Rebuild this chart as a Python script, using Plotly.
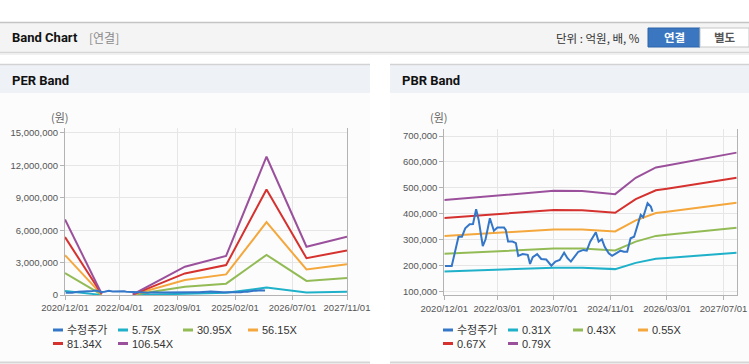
import plotly.graph_objects as go

W, H = 749, 364

# ---------------- data ----------------
price_dates = ["2020-12-07", "2021-02-03", "2021-04-02", "2021-05-02", "2021-05-30", "2021-07-07",
               "2021-08-05", "2021-09-01", "2021-09-23", "2021-10-28", "2021-11-21", "2021-12-28",
               "2022-02-01", "2022-03-03", "2022-04-29", "2022-05-14", "2022-06-03", "2022-07-11",
               "2022-08-09", "2022-08-29", "2022-10-06", "2022-11-19", "2022-12-09", "2023-01-01",
               "2023-02-08", "2023-03-15", "2023-04-27", "2023-06-10", "2023-07-15", "2023-08-21",
               "2023-09-28", "2023-10-27", "2023-11-25", "2023-12-25", "2024-01-28", "2024-03-12",
               "2024-04-10", "2024-05-09", "2024-05-29", "2024-06-27", "2024-07-21", "2024-08-18",
               "2024-09-11", "2024-10-16", "2024-11-14", "2024-12-27", "2025-01-25", "2025-02-24",
               "2025-03-24", "2025-04-22", "2025-05-22", "2025-07-18", "2025-08-08", "2025-09-15",
               "2025-10-13", "2025-10-28"]
price_values = [199000, 199000, 312000, 312000, 344000, 360000,
                361000, 418000, 376000, 276000, 302000, 383000,
                335000, 347000, 347000, 338000, 293000, 293000,
                287000, 238000, 245000, 242000, 207000, 233000,
                245000, 226000, 224000, 200000, 216000, 222000,
                250000, 229000, 216000, 233000, 254000, 261000,
                258000, 293000, 306000, 329000, 293000, 302000,
                273000, 248000, 238000, 248000, 258000, 254000,
                254000, 306000, 312000, 396000, 387000, 441000,
                428000, 408000]

per_dates = ["2020-12-01", "2021-10-25", "2022-03-01", "2022-08-01", "2023-11-10",
             "2024-11-13", "2025-11-10", "2026-11-03", "2027-11-01"]
per_575 = [380000, 10000, None, 0, 140000, 200000, 690000, 240000, 290000]
per_3095 = [2030000, 30000, None, 20000, 760000, 1050000, 3710000, 1300000, 1570000]
per_5615 = [3690000, 60000, None, 30000, 1380000, 1910000, 6740000, 2360000, 2850000]
per_8134 = [5360000, 90000, None, 40000, 2000000, 2770000, 9770000, 3410000, 4120000]
per_10654 = [7000000, 120000, None, 50000, 2620000, 3620000, 12800000, 4470000, 5400000]

pbr_dates = ["2020-12-01", "2022-03-01", "2023-07-01", "2024-03-01", "2024-08-01",
             "2024-12-10", "2025-06-05", "2025-11-26", "2026-03-01", "2027-10-22"]
pbr_031 = [178000, 184000, 192000, 192000, 189000, 187000, 211000, 227000, 230000, 250000]
pbr_043 = [246000, 256000, 266000, 266000, 263000, 259000, 293000, 315000, 319000, 346000]
pbr_055 = [315000, 327000, 340000, 340000, 336000, 332000, 375000, 403000, 408000, 443000]
pbr_067 = [384000, 399000, 415000, 414000, 409000, 404000, 457000, 491000, 497000, 539000]
pbr_079 = [453000, 470000, 489000, 488000, 483000, 476000, 539000, 579000, 586000, 636000]

per_tick_vals = ["2020-12-01", "2022-04-01", "2023-09-01", "2025-02-01", "2026-07-01", "2027-11-01"]
per_tick_text = ["2020/12/01", "2022/04/01", "2023/09/01", "2025/02/01", "2026/07/01", "2027/11/01"]
pbr_tick_vals = ["2020-12-01", "2022-03-01", "2023-07-01", "2024-11-01", "2026-03-01", "2027-07-01"]
pbr_tick_text = ["2020/12/01", "2022/03/01", "2023/07/01", "2024/11/01", "2026/03/01", "2027/07/01"]
per_y_ticks = [0, 3000000, 6000000, 9000000, 12000000, 15000000]
pbr_y_ticks = [100000, 200000, 300000, 400000, 500000, 600000, 700000]

per_names = ["수정주가", "5.75X", "30.95X", "56.15X", "81.34X", "106.54X"]
pbr_names = ["수정주가", "0.31X", "0.43X", "0.55X", "0.67X", "0.79X"]
colors = ["#3476c8", "#1fb1c9", "#93bb55", "#f4a73c", "#d5312e", "#9b509c"]

# ---------------- helpers ----------------
def fx(px):
    return px / W

def fy(py):
    return 1 - py / H

fig = go.Figure()

per_series = [per_575, per_3095, per_5615, per_8134, per_10654]
for i, vals in enumerate(per_series):
    fig.add_trace(go.Scatter(x=per_dates, y=vals, mode="lines", name=per_names[i + 1],
                             line=dict(color=colors[i + 1], width=2), connectgaps=False,
                             showlegend=False, xaxis="x", yaxis="y"))
fig.add_trace(go.Scatter(x=price_dates, y=price_values, mode="lines", name=per_names[0],
                         line=dict(color=colors[0], width=2), showlegend=False,
                         xaxis="x", yaxis="y"))

pbr_series = [pbr_031, pbr_043, pbr_055, pbr_067, pbr_079]
for i, vals in enumerate(pbr_series):
    fig.add_trace(go.Scatter(x=pbr_dates, y=vals, mode="lines", name=pbr_names[i + 1],
                             line=dict(color=colors[i + 1], width=2),
                             showlegend=False, xaxis="x2", yaxis="y2"))
fig.add_trace(go.Scatter(x=price_dates, y=price_values, mode="lines", name=pbr_names[0],
                         line=dict(color=colors[0], width=2), showlegend=False,
                         xaxis="x2", yaxis="y2"))

tick_font = dict(family="Liberation Sans, Noto Sans CJK KR", size=9.5, color="#555555")
axis_common = dict(showgrid=True, gridcolor="#e6e6e6", gridwidth=1, showline=True,
                   linecolor="#b3b3b3", linewidth=1, ticks="outside", ticklen=4,
                   tickcolor="#b3b3b3", tickfont=tick_font, zeroline=False, fixedrange=True,
                   automargin=False)

fig.update_layout(
    template="none",
    width=W, height=H,
    autosize=False,
    margin=dict(l=0, r=0, t=0, b=0, pad=0),
    paper_bgcolor="#ffffff",
    plot_bgcolor="rgba(0,0,0,0)",
    showlegend=False,
    xaxis=dict(type="date", domain=[fx(65), fx(347)], range=["2020-12-01", "2027-11-01"],
               tickvals=per_tick_vals, ticktext=per_tick_text, anchor="y", **axis_common),
    yaxis=dict(domain=[fy(295), fy(128)], range=[0, 15460000], tickvals=per_y_ticks,
               tickformat=",", mirror=True, anchor="x", **axis_common),
    xaxis2=dict(type="date", domain=[fx(444.3), fx(736.7)], range=["2020-12-01", "2027-10-22"],
                tickvals=pbr_tick_vals, ticktext=pbr_tick_text, anchor="y2", **axis_common),
    yaxis2=dict(domain=[fy(295.3), fy(129)], range=[86100, 727000], tickvals=pbr_y_ticks,
                tickformat=",", mirror=True, anchor="x2", **axis_common),
)

shapes = []

def rect(x0, y0, x1, y1, fill, line_color=None, lw=0, layer="below"):
    shapes.append(dict(type="rect", xref="paper", yref="paper", x0=fx(x0), x1=fx(x1),
                       y0=fy(y1), y1=fy(y0), fillcolor=fill, layer=layer,
                       line=dict(color=line_color or fill, width=lw)))

def hline(x0, x1, y, color, lw=1, layer="below"):
    shapes.append(dict(type="line", xref="paper", yref="paper", x0=fx(x0), x1=fx(x1),
                       y0=fy(y), y1=fy(y), layer=layer, line=dict(color=color, width=lw)))

# header bar
rect(0, 22, 749, 52, "#f4f4f4")
hline(0, 749, 22.5, "#c4c4c4", 1.5)
hline(0, 749, 52.5, "#d6d6d6", 1.5)
hline(0, 749, 54, "#ececec", 1.5)
# buttons
rect(648, 28, 700, 47, "#3a77c0", "#2d65aa", 1, layer="above")
rect(700, 28, 749, 47, "#ffffff", "#c6c6c6", 1, layer="above")

# panels
for (px0, px1) in [(0, 370), (390, 749)]:
    rect(px0, 64, px1, 93, "#eef2f7")
    rect(px0, 93, px1, 362, "#fcfcfc")
    hline(px0, px1, 64.5, "#d2d2d2", 1.5)
    hline(px0, px1, 362.5, "#d6d6d6", 2)

annotations = []

def text(x, y, s, size=12, color="#333333", family="Noto Sans CJK KR", bold=False,
         anchor="left"):
    if bold:
        s = "<b>" + s + "</b>"
    annotations.append(dict(xref="paper", yref="paper", x=fx(x), y=fy(y), text=s,
                            showarrow=False, xanchor=anchor, yanchor="middle",
                            font=dict(family=family, size=size, color=color)))

text(10, 38, "Band Chart", size=13, color="#111111", family="Roboto, Noto Sans CJK KR", bold=True)
text(87, 38, "[연결]", size=12, color="#8a8a8a")
text(642, 38, "단위 : 억원, 배, %", size=11.5, color="#333333", anchor="right")
text(674, 37.5, "연결", size=11.5, color="#ffffff", bold=True, anchor="center")
text(724.5, 37.5, "별도", size=11.5, color="#555555", bold=True, anchor="center")

text(10, 80, "PER Band", size=13, color="#111111", family="Roboto, Noto Sans CJK KR", bold=True)
text(400, 80, "PBR Band", size=13, color="#111111", family="Roboto, Noto Sans CJK KR", bold=True)

text(60, 117.5, "(원)", size=11, color="#666666", anchor="center")
text(439, 117.5, "(원)", size=11, color="#666666", anchor="center")

# custom legends
leg_font = "Liberation Sans, Noto Sans CJK KR"
def legend(x_start, names):
    cols = [0, 65, 130, 195]
    rows = [330, 343.5]
    for i, name in enumerate(names):
        r, c = divmod(i, 4)
        lx = x_start + cols[c]
        ly = rows[r]
        shapes.append(dict(type="line", xref="paper", yref="paper", x0=fx(lx), x1=fx(lx + 10),
                           y0=fy(ly), y1=fy(ly), layer="above",
                           line=dict(color=colors[i], width=3)))
        text(lx + 12, ly, name, size=11, color="#333333", family=leg_font)

legend(53, per_names)
legend(443, pbr_names)

fig.update_layout(shapes=shapes, annotations=annotations)

fig.write_html(
    "out.html",
    config={"displayModeBar": False},
    post_script="document.documentElement.style.margin='0';document.body.style.margin='0';"
                "document.body.style.padding='0';document.body.style.overflow='hidden';",
)
